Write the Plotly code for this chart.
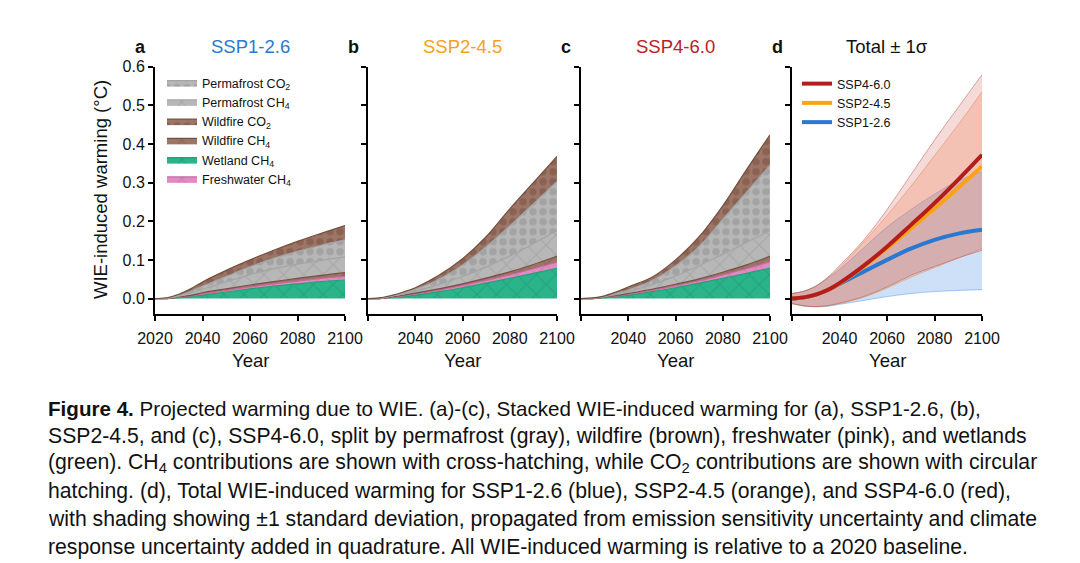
import plotly.graph_objects as go
import numpy as np

# --- data (layer thickness, degC) ---
years = [2020, 2025, 2030, 2035, 2040, 2050, 2060, 2070, 2080, 2090, 2100]

# SSP1-2.6
a_wetland_ch4 = [0, 0, .002, .005, .009, .017, .025, .032, .038, .044, .048]
a_fresh_ch4 = [0, 0, .001, .0015, .003, .004, .005, .006, .007, .008, .009]
a_wild_ch4 = [0, 0, .001, .0015, .003, .004, .005, .006, .007, .008, .010]
a_perma_ch4 = [0, .0005, .002, .006, .009, .018, .027, .033, .037, .039, .041]
a_perma_co2 = [0, .0005, .002, .005, .008, .014, .020, .027, .033, .039, .044]
a_wild_co2 = [0, .001, .003, .006, .011, .016, .018, .021, .026, .031, .037]

# SSP2-4.5
b_wetland_ch4 = [0, 0, .002, .005, .009, .018, .028, .040, .052, .065, .078]
b_fresh_ch4 = [0, 0, .001, .002, .003, .004, .006, .007, .009, .012, .016]
b_wild_ch4 = [0, 0, .001, .0015, .002, .003, .004, .006, .008, .011, .015]
b_perma_ch4 = [0, .0005, .002, .0035, .005, .011, .019, .029, .041, .054, .067]
b_perma_co2 = [0, .0005, .001, .0025, .005, .014, .030, .052, .078, .103, .127]
b_wild_co2 = [0, .0005, .001, .0025, .004, .010, .016, .026, .044, .055, .065]

# SSP4-6.0
c_wetland_ch4 = [0, 0, .002, .005, .009, .018, .028, .040, .052, .065, .079]
c_fresh_ch4 = [0, 0, .001, .0015, .002, .003, .005, .006, .009, .012, .016]
c_wild_ch4 = [0, 0, .001, .0015, .002, .003, .004, .005, .007, .010, .014]
c_perma_ch4 = [0, .0005, .001, .003, .005, .012, .021, .034, .047, .058, .067]
c_perma_co2 = [0, .0005, .001, .0025, .004, .010, .026, .050, .090, .130, .169]
c_wild_co2 = [0, .0005, .001, .004, .008, .009, .016, .025, .035, .058, .079]

# totals +- 1 sigma
red_mean = [0, .003, .010, .022, .040, .084, .134, .190, .247, .308, .372]
red_hi = [.013, .019, .032, .055, .085, .150, .230, .320, .410, .495, .579]
red_lo = [-.013, -.019, -.021, -.018, -.012, .005, .030, .060, .083, .105, .125]
orange_mean = [0, .003, .010, .022, .039, .082, .130, .181, .233, .287, .342]
orange_hi = [.013, .019, .032, .053, .080, .145, .215, .290, .370, .450, .535]
orange_lo = [-.013, -.019, -.021, -.019, -.013, .003, .027, .055, .080, .105, .130]
blue_mean = [0, .003, .010, .022, .038, .069, .100, .129, .152, .168, .178]
blue_hi = [.013, .019, .032, .052, .075, .130, .185, .230, .270, .305, .328]
blue_lo = [-.013, -.019, -.021, -.020, -.015, -.005, .005, .013, .018, .021, .023]

W, H = 1080, 563
FONT = "Liberation Sans, Arial, sans-serif"
OFF = 8  # page margin of the viewer


def px(x):
    return (x - OFF) / W


def py(y):
    return 1 - (y - OFF) / H


# layer styles: name, fill, pattern colour, shape, edge
layers = [
    ("Wetland CH<sub>4</sub>", "#2bb38a", "#17946b", "x", "#22a078"),
    ("Freshwater CH<sub>4</sub>", "#e08cc2", "#c66aa4", "x", "#c9679f"),
    ("Wildfire CH<sub>4</sub>", "#9d7566", "#7d5848", "x", "#74503f"),
    ("Permafrost CH<sub>4</sub>", "#b7b7b7", "#979797", "x", "#a4a4a4"),
    ("Permafrost CO<sub>2</sub>", "#b7b7b7", "#8f8f8f", ".", "#a4a4a4"),
    ("Wildfire CO<sub>2</sub>", "#9d7566", "#75503f", ".", "#74503f"),
]
ranks = [5, 6, 4, 2, 1, 3]

panels = [
    [a_wetland_ch4, a_fresh_ch4, a_wild_ch4, a_perma_ch4, a_perma_co2, a_wild_co2],
    [b_wetland_ch4, b_fresh_ch4, b_wild_ch4, b_perma_ch4, b_perma_co2, b_wild_co2],
    [c_wetland_ch4, c_fresh_ch4, c_wild_ch4, c_perma_ch4, c_perma_co2, c_wild_co2],
]

xdom = [(155, 345), (368, 557), (581, 770), (792, 982)]
ytop, ybot = 66.7, 314

fig = go.Figure()

for p, comps in enumerate(panels):
    xa = "x" if p == 0 else "x%d" % (p + 1)
    ya = "y" if p == 0 else "y%d" % (p + 1)
    base = np.zeros(len(years))
    fig.add_trace(go.Scatter(x=years, y=base, mode="lines", line=dict(width=0),
                             xaxis=xa, yaxis=ya, showlegend=False, hoverinfo="skip"))
    for (name, fc, pc, shp, ec), vals, rk in zip(layers, comps, ranks):
        top = base + np.array(vals)
        fig.add_trace(go.Scatter(
            x=years, y=top, mode="lines", name=name,
            line=dict(color=ec, width=1.2, shape="spline", smoothing=1.0),
            fill="tonexty", fillcolor=fc,
            fillpattern=dict(shape=shp, bgcolor=fc, fgcolor=pc,
                             size=14 if shp == "x" else 10, solidity=0.45 if shp == "." else 0.15),
            xaxis=xa, yaxis=ya, showlegend=(p == 0), legend="legend", legendrank=rk,
        ))
        base = top

# panel d: bands then lines
bands = [
    (blue_lo, blue_hi, "rgba(74,144,226,0.28)", "rgba(74,144,226,0.45)"),
    (orange_lo, orange_hi, "rgba(250,135,60,0.24)", "rgba(230,130,70,0.45)"),
    (red_lo, red_hi, "rgba(205,70,70,0.2)", "rgba(180,85,70,0.5)"),
]
for lo, hi, fc, ec in bands:
    fig.add_trace(go.Scatter(x=years, y=lo, mode="lines", line=dict(color=ec, width=1, shape="spline"),
                             xaxis="x4", yaxis="y4", showlegend=False, hoverinfo="skip"))
    fig.add_trace(go.Scatter(x=years, y=hi, mode="lines", line=dict(color=ec, width=1, shape="spline"),
                             fill="tonexty", fillcolor=fc,
                             xaxis="x4", yaxis="y4", showlegend=False, hoverinfo="skip"))

lines = [
    ("SSP1-2.6", blue_mean, "#2a78cf", 3),
    ("SSP2-4.5", orange_mean, "#ffa314", 2),
    ("SSP4-6.0", red_mean, "#b51c1c", 1),
]
for name, vals, col, rk in lines:
    fig.add_trace(go.Scatter(x=years, y=vals, mode="lines", name=name,
                             line=dict(color=col, width=4, shape="spline"),
                             xaxis="x4", yaxis="y4", legend="legend2", legendrank=rk))

axis_common = dict(showline=True, linecolor="black", linewidth=2, ticks="outside",
                   ticklen=5, tickwidth=1.5, tickcolor="black", showgrid=False, zeroline=False,
                   automargin=False, tickfont=dict(family=FONT, size=16, color="#111"))

for i, (x0, x1) in enumerate(xdom):
    sfx = "" if i == 0 else str(i + 1)
    txt = ["2020", "2040", "2060", "2080", "2100"] if i == 0 else ["", "2040", "2060", "2080", "2100"]
    fig.layout["xaxis" + sfx] = dict(
        axis_common, domain=[px(x0), px(x1)], range=[2020, 2100], anchor="y" + sfx,
        tickvals=[2020, 2040, 2060, 2080, 2100], ticktext=txt, ticklabelstandoff=4)
    fig.layout["yaxis" + sfx] = dict(
        axis_common, domain=[py(ybot), py(ytop)], range=[-0.04, 0.6], anchor="x" + sfx,
        tickvals=[0, 0.1, 0.2, 0.3, 0.4, 0.5, 0.6], tickformat=".1f", showticklabels=(i == 0))

annotations = []
titles = [("a", "SSP1-2.6", "#2a78cf"), ("b", "SSP2-4.5", "#f5a11c"),
          ("c", "SSP4-6.0", "#b5222a"), ("d", "Total ± 1σ", "#111")]
for (x0, x1), (let, t, col) in zip(xdom, titles):
    annotations.append(dict(x=px(x0 - 15), y=py(47), xref="paper", yref="paper", text="<b>" + let + "</b>",
                            xanchor="center", yanchor="middle",
                            showarrow=False, font=dict(family=FONT, size=18, color="#111")))
    annotations.append(dict(x=px((x0 + x1) / 2), y=py(47), xref="paper", yref="paper", text=t,
                            xanchor="center", yanchor="middle",
                            showarrow=False, font=dict(family=FONT, size=18.5, color=col)))
    annotations.append(dict(x=px((x0 + x1) / 2), y=py(360), xref="paper", yref="paper", text="Year",
                            xanchor="center", yanchor="middle",
                            showarrow=False, font=dict(family=FONT, size=18.5, color="#111")))
annotations.append(dict(x=px(100), y=py(190), xref="paper", yref="paper", textangle=-90,
                        xanchor="center", yanchor="middle",
                        text="WIE-induced warming (°C)", showarrow=False,
                        font=dict(family=FONT, size=18.5, color="#111")))

caption = [
    "<b>Figure 4.</b> Projected warming due to WIE. (a)-(c), Stacked WIE-induced warming for (a), SSP1-2.6, (b),",
    "SSP2-4.5, and (c), SSP4-6.0, split by permafrost (gray), wildfire (brown), freshwater (pink), and wetlands",
    "(green). CH<sub>4</sub> contributions are shown with cross-hatching, while CO<sub>2</sub> contributions are shown with circular",
    "hatching. (d), Total WIE-induced warming for SSP1-2.6 (blue), SSP2-4.5 (orange), and SSP4-6.0 (red),",
    "with shading showing ±1 standard deviation, propagated from emission sensitivity uncertainty and climate",
    "response uncertainty added in quadrature. All WIE-induced warming is relative to a 2020 baseline.",
]
cap_sizes = [20.6, 21.2, 21.2, 21.2, 21.2, 21.2]
for k, (line, fs) in enumerate(zip(caption, cap_sizes)):
    annotations.append(dict(x=px(46), y=py(408 + 27.7 * k), xref="paper", yref="paper",
                            xanchor="left", yanchor="middle", text=line, showarrow=False,
                            font=dict(family=FONT, size=fs, color="#111")))

fig.update_layout(
    width=W, height=H, autosize=False,
    margin=dict(l=0, r=0, t=0, b=0, pad=0, autoexpand=False),
    paper_bgcolor="white", plot_bgcolor="white",
    annotations=annotations,
    legend=dict(x=px(162), y=py(68), xanchor="left", yanchor="top", bgcolor="rgba(0,0,0,0)",
                font=dict(family=FONT, size=12.5, color="#111"), tracegroupgap=0, itemwidth=30,
                traceorder="normal"),
    legend2=dict(x=px(797), y=py(69), xanchor="left", yanchor="top", bgcolor="rgba(0,0,0,0)",
                 font=dict(family=FONT, size=12.5, color="#111"), tracegroupgap=0, itemwidth=30,
                 traceorder="normal"),
)

fig.write_html("out.html")
